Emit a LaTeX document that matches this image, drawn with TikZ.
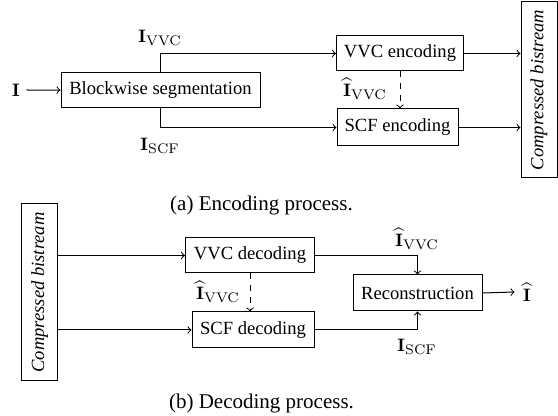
\documentclass[tikz,border=0pt]{standalone}
\usepackage[no-math]{fontspec}
\setmainfont{Liberation Serif}
\usetikzlibrary{calc}
\tikzset{
  blk/.style={draw, line width=0.5pt, inner sep=0pt, font=\fontsize{9.3}{11}\selectfont},
  bits/.style={draw, line width=0.5pt, inner sep=0pt, rotate=90,
               font=\fontsize{9.3}{11}\selectfont\itshape},
  lbl/.style={inner sep=0pt, font=\fontsize{9.5}{11}\selectfont},
  captxt/.style={inner sep=0pt, font=\fontsize{10.5}{12}\selectfont},
  conn/.style={line width=0.5pt, ->},
  dconn/.style={line width=0.5pt, ->, dashed},
}
\begin{document}
\begin{tikzpicture}[x=0.5pt, y=-0.5pt]
\useasboundingbox (0,0) rectangle (558,416);

% ---------- encoding ----------
\node[lbl] (in) at (16,90) {$\mathbf{I}$};
\node[blk, minimum width=99.5pt, minimum height=17.5pt] (seg) at (160.5,90.5) {Blockwise segmentation};
\node[blk, minimum width=63.5pt, minimum height=17.5pt] (venc) at (400,53.5) {VVC encoding};
\node[blk, minimum width=60.5pt, minimum height=18.5pt] (senc) at (397.5,127.5) {SCF encoding};
\node[bits, minimum width=88pt, minimum height=18pt] (bs1) at (539,90) {Compressed bistream};

\node[lbl] (lv) at (160,38) {$\mathbf{I}_{\mathrm{VVC}}$};
\node[lbl] (ls) at (160,146) {$\mathbf{I}_{\mathrm{SCF}}$};
\node[lbl] (lhv) at (365,89) {$\widehat{\mathbf{I}}_{\mathrm{VVC}}$};

\draw[conn] ([xshift=3pt]in.east) -- (seg);
\draw[conn] (seg.north) |- (venc.west);
\draw[conn] (seg.south) |- (senc.west);
\draw[dconn] (venc.south) -- (venc.south |- senc.north);
\draw[conn] (venc.east) -- (venc.east -| bs1.north);
\draw[conn] (senc.east) -- (senc.east -| bs1.north);

\node[captxt] (capa) at (261.5,205) {(a) Encoding process.};

% ---------- decoding ----------
\node[bits, minimum width=88.5pt, minimum height=18pt] (bs2) at (39.7,292.5) {Compressed bistream};
\node[blk, minimum width=64.5pt, minimum height=17.5pt] (vdec) at (250,255.5) {VVC decoding};
\node[blk, minimum width=61pt, minimum height=18pt] (sdec) at (253,330) {SCF decoding};
\node[blk, minimum width=64.5pt, minimum height=18pt] (rec) at (417.5,293) {Reconstruction};
\node[lbl] (out) at (527,292) {$\widehat{\mathbf{I}}$};

\node[lbl] (dlv) at (417,239) {$\widehat{\mathbf{I}}_{\mathrm{VVC}}$};
\node[lbl] (dls) at (417,347) {$\mathbf{I}_{\mathrm{SCF}}$};
\node[lbl] (dlhv) at (218,292) {$\widehat{\mathbf{I}}_{\mathrm{VVC}}$};

\draw[conn] (bs2.south |- vdec.west) -- (vdec.west);
\draw[conn] (bs2.south |- sdec.west) -- (sdec.west);
\draw[dconn] (vdec.south) -- (vdec.south |- sdec.north);
\draw[conn] (vdec.east) -| (rec.north);
\draw[conn] (sdec.east) -| (rec.south);
\draw[conn] (rec.east) -- ([xshift=-4pt]out.west);

\node[captxt] (capb) at (261.5,403) {(b) Decoding process.};
\end{tikzpicture}
\end{document}
